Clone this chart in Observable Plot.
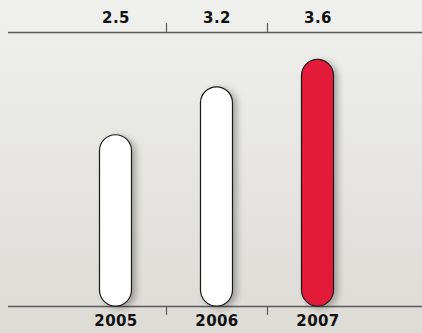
<!DOCTYPE html>
<html>
<head>
<meta charset="utf-8">
<script src="https://cdn.jsdelivr.net/npm/d3@7"></script>
<script src="https://cdn.jsdelivr.net/npm/@observablehq/plot@0.6"></script>
<style>
  html, body { margin: 0; padding: 0; background: #e6e6e2; }
  #chart svg g[aria-label="bar"] rect { filter: drop-shadow(4px 2px 3px rgba(0,0,0,0.28)); }
</style>
</head>
<body>
<div id="chart"></div>
<script>
const years = ["2005", "2006", "2007"];
const values = [2.5, 3.2, 3.6];
const fills = ["#ffffff", "#ffffff", "#e31a3a"];
const yMax = 4;

const data = years.map((year, i) => ({ year, value: values[i], fill: fills[i] }));
const valueLabel = new Map(data.map(d => [d.year, d.value.toFixed(1)]));

const xRange = [65, 368];
const step = (xRange[1] - xRange[0]) / years.length;
const tickLen = 0.13;

const chart = Plot.plot({
  width: 422,
  height: 333,
  marginLeft: 8,
  marginRight: 0,
  marginTop: 32,
  marginBottom: 27,
  style: {
    background: "linear-gradient(#f0f0ee, #dcdbd6)",
    fontFamily: "'DejaVu Sans', sans-serif",
    overflow: "visible"
  },
  x: { type: "band", domain: years, range: xRange, padding: 0 },
  y: { domain: [0, yMax], axis: null },
  marks: [
    Plot.ruleY([0, yMax], { stroke: "#5a5a5a", strokeWidth: 1.5 }),
    Plot.ruleX(years.slice(1), { x: d => d, dx: -step / 2, y1: yMax, y2: yMax + tickLen, stroke: "#5a5a5a", strokeWidth: 1.2 }),
    Plot.ruleX(years.slice(1), { x: d => d, dx: -step / 2, y1: 0, y2: -tickLen, stroke: "#5a5a5a", strokeWidth: 1.2 }),
    Plot.barY(data, {
      x: "year", y: "value", fill: "fill",
      stroke: "#1a1a1a", strokeWidth: 1.2,
      insetLeft: (step - 32) / 2, insetRight: (step - 32) / 2,
      rx: 16
    }),
    Plot.axisX({
      anchor: "top", tickSize: 0, tickPadding: 10,
      tickFormat: d => valueLabel.get(d),
      fontSize: 15, fontWeight: "bold", fill: "#111", label: null
    }),
    Plot.axisX({
      anchor: "bottom", tickSize: 0, tickPadding: 9,
      fontSize: 15, fontWeight: "bold", fill: "#111", label: null
    })
  ]
});
chart.querySelectorAll('g[aria-label="x-axis tick label"] text').forEach(t => t.setAttribute("letter-spacing", "0.4"));
document.getElementById("chart").appendChild(chart);
</script>
</body>
</html>
